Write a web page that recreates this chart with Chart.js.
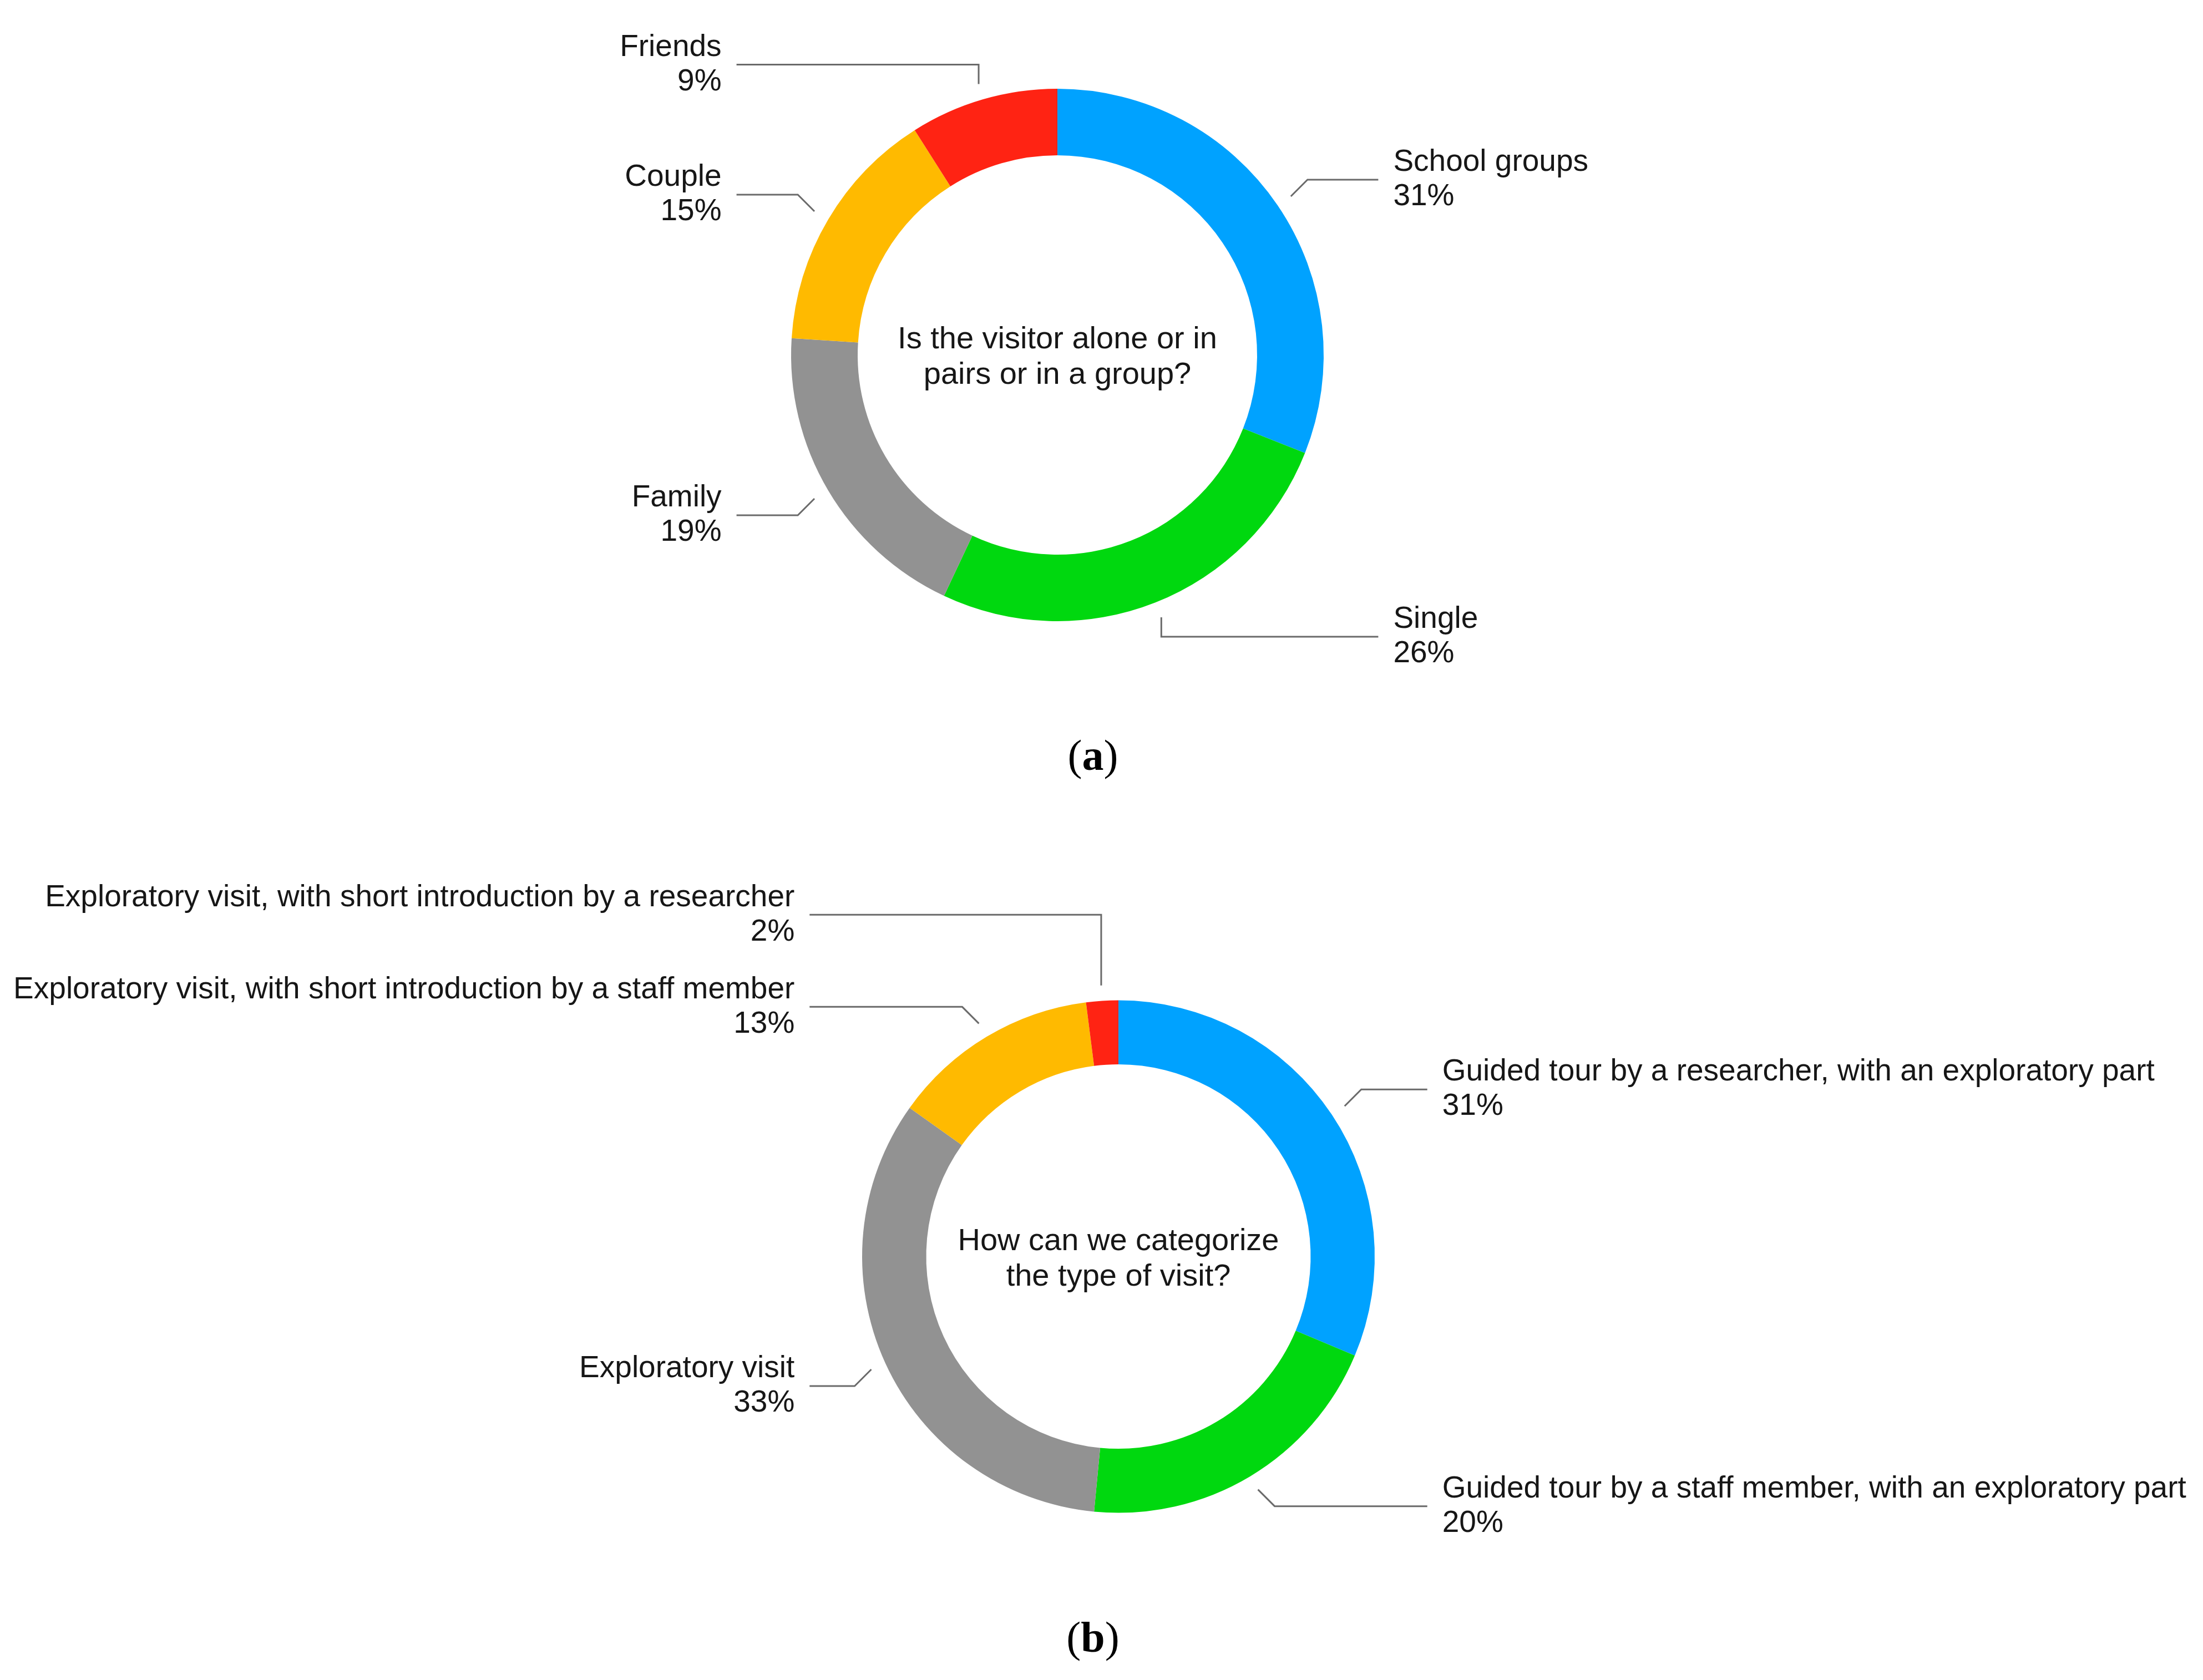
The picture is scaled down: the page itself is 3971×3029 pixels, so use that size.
<!DOCTYPE html>
<html>
<head>
<meta charset="utf-8">
<script src="https://cdn.jsdelivr.net/npm/chart.js@4.4.1/dist/chart.umd.min.js"></script>
<style>
  html, body { margin: 0; padding: 0; background: #fff; }
  body { width: 3971px; height: 3029px; position: relative; overflow: hidden; }
  canvas { position: absolute; left: 0; }
  #chartA { top: 0; }
  #chartB { top: 1450px; }
  .caption {
    position: absolute; left: 0; width: 3940px; text-align: center;
    font-family: "Liberation Serif", "DejaVu Serif", serif; font-size: 78px; color: #000;
    line-height: 1;
  }
  .caption b { font-weight: bold; }
</style>
</head>
<body>
<canvas id="chartA" width="3971" height="1300"></canvas>
<canvas id="chartB" width="3971" height="1579"></canvas>
<div class="caption" style="top:1323px">(<b>a</b>)</div>
<div class="caption" style="top:2913px">(<b>b</b>)</div>

<script>
// (a) who is the visitor with
const groupLabels = ['School groups', 'Single', 'Family', 'Couple', 'Friends']
const groupValues = [31, 26, 19, 15, 9]
const groupQuestion = ['Is the visitor alone or in', 'pairs or in a group?']

// (b) type of visit
const visitLabels = [
    'Guided tour by a researcher, with an exploratory part',
    'Guided tour by a staff member, with an exploratory part',
    'Exploratory visit',
    'Exploratory visit, with short introduction by a staff member',
    'Exploratory visit, with short introduction by a researcher',
]
const visitValues = [31, 20, 33, 13, 2]
const visitQuestion = ['How can we categorize', 'the type of visit?']

const sliceColors = ['#00A2FF', '#00D80F', '#929292', '#FFBA00', '#FF2313']

const labelFont = '55px "Liberation Sans", Arial, sans-serif'
const lineColor = '#6a6a6a'
const textColor = '#161616'

// leader lines, outside labels and the question in the hole
const leaderPlugin = {
    id: 'leaders',
    afterDatasetsDraw(chart, args, opts) {
        const ctx = chart.ctx
        const arcs = chart.getDatasetMeta(0).data
        const labels = chart.data.labels
        const values = chart.data.datasets[0].data
        const cx = arcs[0].x, cy = arcs[0].y, r = arcs[0].outerRadius

        const items = arcs.map((arc, i) => {
            const mid = (arc.startAngle + arc.endAngle) / 2
            const ax = cx + Math.cos(mid) * r * 1.06
            const ay = cy + Math.sin(mid) * r * 1.06
            const side = Math.cos(mid) >= 0 ? 1 : -1
            const vertical = Math.abs(Math.cos(mid)) < 0.42
            const dir = Math.sin(mid) < 0 ? -1 : 1
            const level = ay + dir * (vertical ? 35 : 30)
            return { i, ax, ay, side, vertical, level }
        })

        // push labels apart on each side
        const gap = 166
        ;[-1, 1].forEach(s => {
            const list = items.filter(it => it.side === s).sort((a, b) => a.level - b.level)
            for (let k = list.length - 2; k >= 0; k--) {
                if (list[k].level > list[k + 1].level - gap) list[k].level = list[k + 1].level - gap
            }
        })

        ctx.save()
        ctx.strokeStyle = lineColor
        ctx.lineWidth = 3
        ctx.font = labelFont
        ctx.fillStyle = textColor
        ctx.textBaseline = 'middle'
        items.forEach(it => {
            const endX = cx + it.side * r * 1.205
            ctx.beginPath()
            ctx.moveTo(it.ax, it.ay)
            if (it.vertical) ctx.lineTo(it.ax, it.level)
            else ctx.lineTo(it.ax + it.side * Math.abs(it.level - it.ay), it.level)
            ctx.lineTo(endX, it.level)
            ctx.stroke()

            const tx = endX + it.side * 27
            ctx.textAlign = it.side > 0 ? 'left' : 'right'
            ctx.fillText(labels[it.i], tx, it.level - 31)
            ctx.fillText(values[it.i] + '%', tx, it.level + 31)
        })

        // question in the middle
        ctx.font = '56px "Liberation Sans", Arial, sans-serif'
        ctx.textAlign = 'center'
        const q = opts.question || []
        q.forEach((line, k) => {
            ctx.fillText(line, cx, cy + 5 + (k - (q.length - 1) / 2) * 64)
        })
        ctx.restore()
    }
}

function makeDonut(id, labels, values, question, radius, padding) {
    return new Chart(document.getElementById(id), {
        type: 'doughnut',
        data: {
            labels: labels,
            datasets: [{
                data: values,
                backgroundColor: sliceColors,
                borderWidth: 0,
                radius: radius,
            }]
        },
        options: {
            responsive: false,
            animation: false,
            cutout: '75%',
            layout: { padding: padding },
            events: [],
            plugins: {
                legend: { display: false },
                tooltip: { enabled: false },
                leaders: { question: question },
            }
        },
        plugins: [leaderPlugin]
    })
}

const chartA = makeDonut('chartA', groupLabels, groupValues, groupQuestion, 480,
    { left: 0, right: 159, top: 0, bottom: 20 })
const chartB = makeDonut('chartB', visitLabels, visitValues, visitQuestion, 462,
    { left: 61, right: 0, top: 52, bottom: 0 })
</script>
</body>
</html>
